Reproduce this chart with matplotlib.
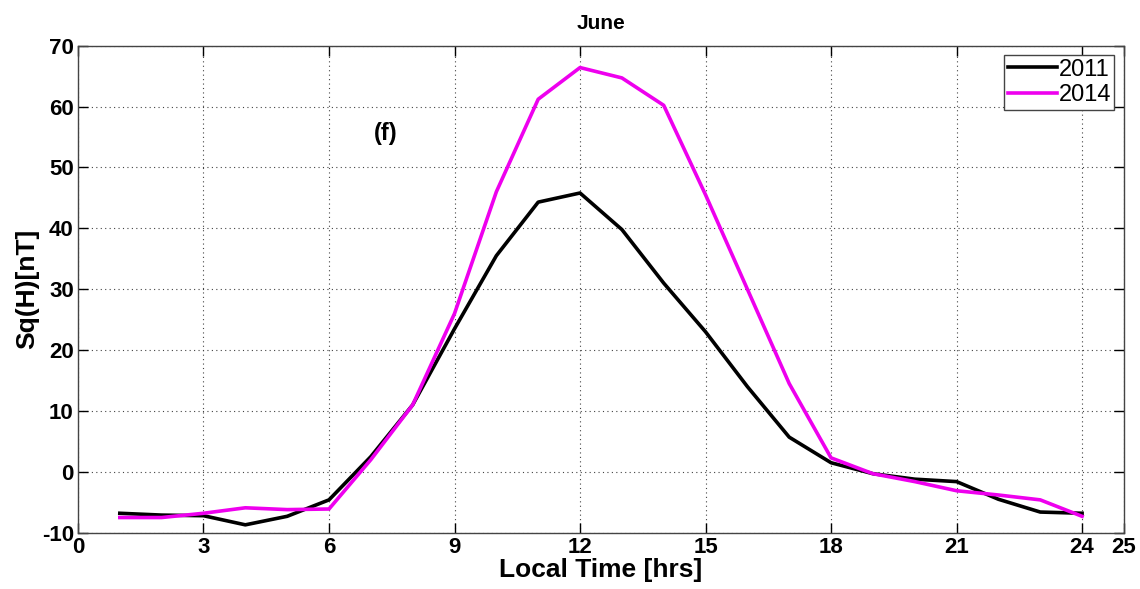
import numpy as np
import matplotlib.pyplot as plt

plt.rcParams['font.family'] = ['Liberation Sans', 'DejaVu Sans']
plt.rcParams['axes.unicode_minus'] = False

hours = np.arange(1, 25)
sq_2011 = [-6.8, -7.1, -7.2, -8.7, -7.3, -4.6, 2.5, 11.0, 23.5, 35.5, 44.3, 45.8,
           39.8, 31.0, 23.0, 14.0, 5.7, 1.5, -0.3, -1.2, -1.6, -4.5, -6.6, -6.8]
sq_2014 = [-7.5, -7.5, -6.8, -5.9, -6.2, -6.1, 2.0, 11.0, 26.0, 46.0, 61.2, 66.4,
           64.7, 60.2, 45.5, 30.0, 14.5, 2.3, -0.3, -1.6, -3.1, -3.8, -4.6, -7.3]
xticks = [0, 3, 6, 9, 12, 15, 18, 21, 24, 25]
yticks = np.arange(-10, 71, 10)

fig = plt.figure(figsize=(11.4, 5.89), dpi=100)
ax = fig.add_axes([0.0684, 0.0955, 0.9175, 0.827])

ax.plot(hours, sq_2011, color='black', lw=2.6, label='2011')
ax.plot(hours, sq_2014, color='#ee00ee', lw=2.6, label='2014')

ax.set_xlim(0, 25)
ax.set_ylim(-10, 70)
ax.set_xticks(xticks)
ax.set_yticks(yticks)
ax.grid(True, linestyle=(0, (1, 3)), color='#444444', lw=0.8)
ax.tick_params(direction='in', length=7, width=1, top=True, right=True,
               labelsize=16, pad=3)
for lbl in ax.get_xticklabels() + ax.get_yticklabels():
    lbl.set_fontweight('bold')
for sp in ax.spines.values():
    sp.set_color('#444444')
    sp.set_linewidth(1)

ax.set_xlabel('Local Time [hrs]', fontsize=19, fontweight='bold', labelpad=0)
ax.set_ylabel('Sq(H)[nT]', fontsize=19, fontweight='bold', labelpad=2)
ax.set_title('June', fontsize=15, fontweight='bold', pad=12)
ax.text(7.35, 55.5, '(f)', fontsize=17, fontweight='bold', ha='center', va='center')

leg = ax.legend(loc='upper right', fontsize=17, handlelength=2.1, handletextpad=0.05,
                borderpad=0.15, labelspacing=0.15, fancybox=False, framealpha=1,
                borderaxespad=0.4)
leg.get_frame().set_edgecolor('#444444')
leg.get_frame().set_linewidth(1)

fig.savefig('out.png', dpi=100)
